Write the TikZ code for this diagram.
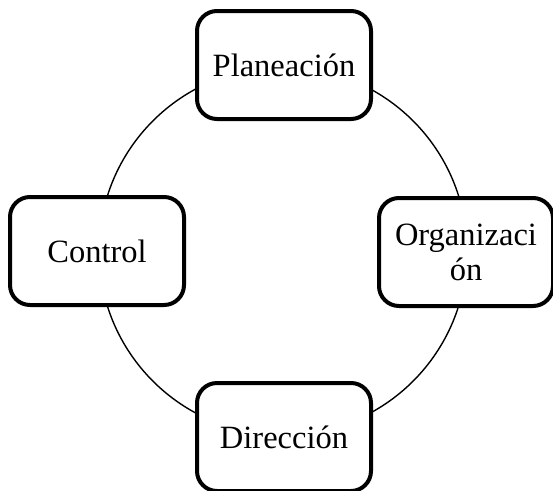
\documentclass[tikz,border=0pt]{standalone}
\usepackage{fontspec}
\setmainfont{Liberation Serif}
\begin{document}
\begin{tikzpicture}[x=1pt,y=-1pt,
  stage/.style={draw=black, line width=4pt, rounded corners=20pt, fill=white,
    minimum width=174pt, minimum height=108pt, align=center, inner sep=0pt,
    font=\fontsize{32.5}{35}\selectfont},
  cycleline/.style={line width=1.4pt}]
\useasboundingbox (0,0) rectangle (553,490);
% the cycle runs through the centres of the four stages
\coordinate (c) at (283,251);
\draw[cycleline] (c) circle[radius=184];
\node[stage] (plan) at (284,65) {Planeación};
\node[stage] (ctrl) at (97,251) {Control};
\node[stage] (org) at (466,252) {Organizaci\\ón};
\node[stage] (dir) at (284,437) {Dirección};
\end{tikzpicture}
\end{document}
